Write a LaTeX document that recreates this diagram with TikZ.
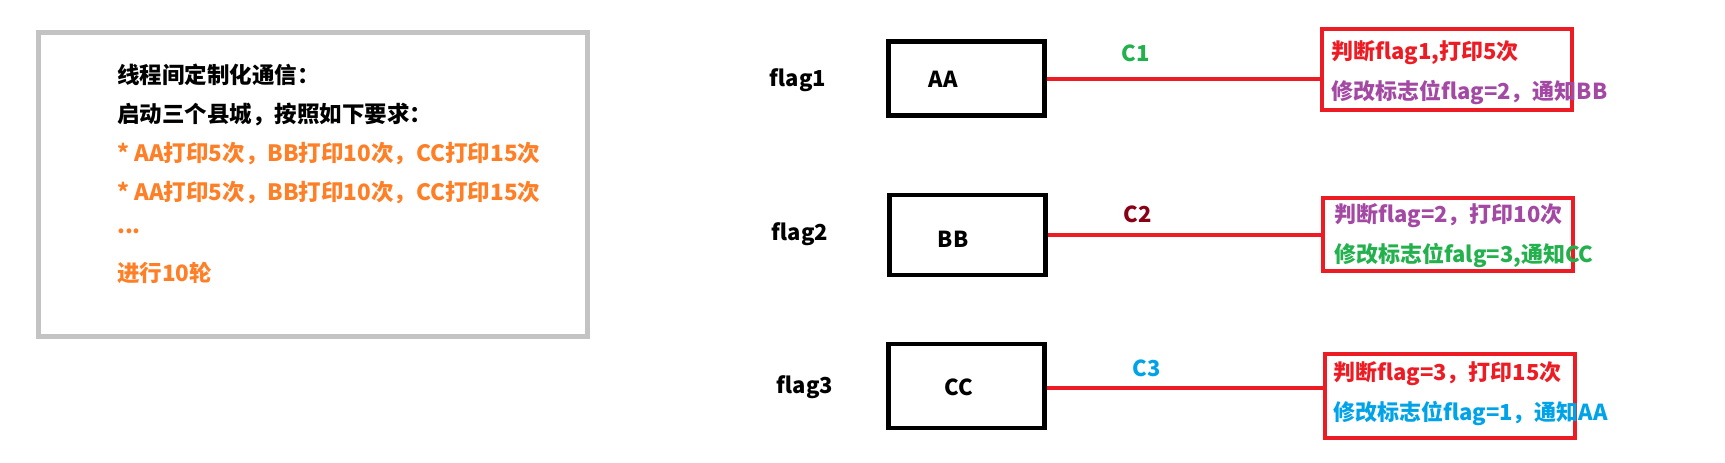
\documentclass[tikz,border=0pt]{standalone}
\usepackage{fontspec}
\setmainfont{Noto Sans CJK SC}
\definecolor{porange}{RGB}{255,127,39}
\definecolor{pred}{RGB}{237,28,36}
\definecolor{pgreen}{RGB}{34,177,76}
\definecolor{ppurple}{RGB}{163,73,164}
\definecolor{pblue}{RGB}{0,162,232}
\definecolor{pdarkred}{RGB}{136,0,21}
\definecolor{pgray}{RGB}{195,195,195}
\begin{document}
\begin{tikzpicture}[x=1pt,y=-1pt,
  txt/.style={anchor=west,inner sep=0pt,font=\bfseries\fontsize{22}{26}\selectfont},
  ltxt/.style={anchor=west,inner sep=0pt,font=\bfseries\fontsize{22.5}{26}\selectfont},
  ctxt/.style={inner sep=0pt,font=\bfseries\fontsize{22}{26}\selectfont},
  blk/.style={draw=black,line width=4.5pt,minimum width=156pt,minimum height=74pt,inner sep=0pt},
  redbox/.style={draw=pred,line width=4.5pt,minimum width=250pt,minimum height=78pt,inner sep=0pt},
  link/.style={draw=pred,line width=4pt}]
\useasboundingbox (0,0) rectangle (1725,463);
% left note
\node[draw=pgray,line width=5pt,minimum width=549pt,minimum height=304pt,inner sep=0pt] (note) at (313,184.5) {};
\node[ltxt] (l1) at (117,75) {线程间定制化通信：};
\node[ltxt] (l2) at (117,115) {启动三个县城，按照如下要求：};
\node[ltxt,text=porange] (l3) at (117,154) {* AA打印5次，BB打印10次，CC打印15次};
\node[ltxt,text=porange] (l4) at (117,193) {* AA打印5次，BB打印10次，CC打印15次};
\node[ltxt,text=porange] (l5) at (117,231) {...};
\node[ltxt,text=porange] (l6) at (117,273) {进行10轮};
% row 1
\node[ctxt] (f1) at (798,80) {flag1};
\node[blk] (AA) at (966.5,78.5) {};
\node[ctxt] (AAt) at (943,79) {AA};
\node[redbox,minimum height=81pt] (R1) at (1447,69.5) {};
\draw[link] (AA.east) -- (AA.east -| R1.west);
\node[ctxt,text=pgreen] (C1) at (1136,53) {C1};
\node[txt,text=pred] (R1a) at (1331,53) {判断flag1,打印5次};
\node[txt,text=ppurple] (R1b) at (1331,93) {修改标志位flag=2，通知BB};
% row 2
\node[ctxt] (f2) at (800,234) {flag2};
\node[blk,minimum height=80pt] (BB) at (967.5,235) {};
\node[ctxt] (BBt) at (953,239) {BB};
\node[redbox,minimum height=73pt] (R2) at (1448,234.5) {};
\draw[link] (BB.east) -- (BB.east -| R2.west);
\node[ctxt,text=pdarkred] (C2) at (1138,214) {C2};
\node[txt,text=ppurple] (R2a) at (1334,216) {判断flag=2，打印10次};
\node[txt,text=pgreen] (R2b) at (1334,256) {修改标志位falg=3,通知CC};
% row 3
\node[ctxt] (f3) at (805,387) {flag3};
\node[blk,minimum height=84pt] (CC) at (966.5,386) {};
\node[ctxt] (CCt) at (959,387) {CC};
\node[redbox,minimum height=84pt] (R3) at (1450,396) {};
\draw[link] (CC.east |- 0,388) -- (R3.west |- 0,388);
\node[ctxt,text=pblue] (C3) at (1147,368) {C3};
\node[txt,text=pred] (R3a) at (1333,374) {判断flag=3，打印15次};
\node[txt,text=pblue] (R3b) at (1333,414) {修改标志位flag=1，通知AA};
\end{tikzpicture}
\end{document}
